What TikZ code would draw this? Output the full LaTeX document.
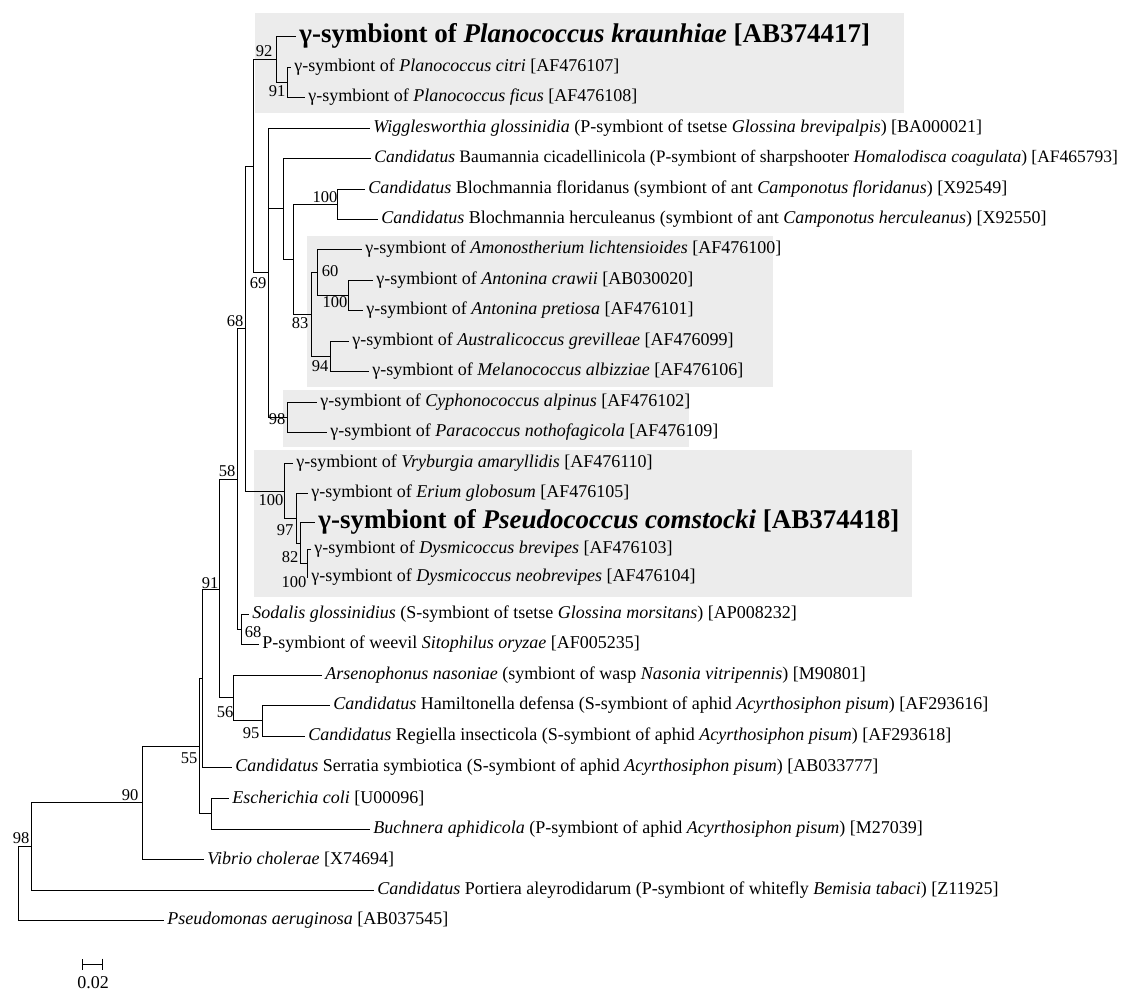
\documentclass[tikz,border=0pt]{standalone}
\usepackage{fontspec}
\setmainfont{Liberation Serif}
\usetikzlibrary{arrows.meta}
\definecolor{cladegray}{HTML}{ECECEC}

\begin{document}
\begin{tikzpicture}[x=1pt,y=-1pt,line width=0.8pt,
		leaf/.style={anchor=west,inner xsep=3pt,inner ysep=0pt,font=\fontsize{18}{20}\selectfont},
		bigleaf/.style={leaf,font=\fontsize{27}{30}\selectfont\bfseries},
		boot/.style={inner sep=0pt,font=\fontsize{16.5}{18}\selectfont}]
				\useasboundingbox (0,0) rectangle (1136,991);
				\fill[cladegray] (255,13) rectangle (904,113);
				\fill[cladegray] (307,236) rectangle (773,387);
				\fill[cladegray] (283,390) rectangle (689,447);
				\fill[cladegray] (254,450) rectangle (912,597);

				\coordinate (root) at (18,883);
				\coordinate (n98) at (31,846.5);
				\coordinate (n90) at (142,802.5);
				\coordinate (n55) at (199,746);
				\coordinate (nU) at (202,678.5);
				\coordinate (n91) at (219,589);
				\coordinate (n56) at (233,697);
				\coordinate (n95) at (262,720.5);
				\coordinate (nEc) at (211,813.5);
				\coordinate (n58) at (237,479);
				\coordinate (nSo) at (241,629);
				\coordinate (n68) at (245,328.5);
				\coordinate (nV) at (284,491);
				\coordinate (n97) at (296,518.5);
				\coordinate (n82) at (300,543.5);
				\coordinate (nD) at (307,563);
				\coordinate (nA) at (253,166);
				\coordinate (n92) at (276,59);
				\coordinate (nPc) at (287,82);
				\coordinate (n69) at (268,272.5);
				\coordinate (nCy) at (287,417);
				\coordinate (nB) at (283,208.5);
				\coordinate (nC) at (293,259);
				\coordinate (nBl) at (337,204);
				\coordinate (n83) at (311,314);
				\coordinate (n60) at (317,272);
				\coordinate (nAn) at (348,295);
				\coordinate (n94) at (330,356);

				\node[bigleaf] (kraun) at (296,36) {γ-symbiont of \textit{Planococcus kraunhiae} [AB374417]};
				\node[leaf] (citri) at (291,67) {γ-symbiont of \textit{Planococcus citri} [AF476107]};
				\node[leaf] (ficus) at (305,97) {γ-symbiont of \textit{Planococcus ficus} [AF476108]};
				\node[leaf] (wigg) at (370,128) {\textit{Wigglesworthia glossinidia} (P-symbiont of tsetse \textit{Glossina brevipalpis}) [BA000021]};
				\node[leaf,font=\fontsize{17.5}{20}\selectfont] (baum) at (371,158) {\textit{Candidatus} Baumannia cicadellinicola (P-symbiont of sharpshooter \textit{Homalodisca coagulata}) [AF465793]};
				\node[leaf] (blochf) at (365,189) {\textit{Candidatus} Blochmannia floridanus (symbiont of ant \textit{Camponotus floridanus}) [X92549]};
				\node[leaf] (blochh) at (378,219) {\textit{Candidatus} Blochmannia herculeanus (symbiont of ant \textit{Camponotus herculeanus}) [X92550]};
				\node[leaf] (amon) at (362,249) {γ-symbiont of \textit{Amonostherium lichtensioides} [AF476100]};
				\node[leaf] (crawii) at (373,280) {γ-symbiont of \textit{Antonina crawii} [AB030020]};
				\node[leaf] (pretiosa) at (363,310) {γ-symbiont of \textit{Antonina pretiosa} [AF476101]};
				\node[leaf] (austral) at (349,341) {γ-symbiont of \textit{Australicoccus grevilleae} [AF476099]};
				\node[leaf] (melano) at (369,371) {γ-symbiont of \textit{Melanococcus albizziae} [AF476106]};
				\node[leaf] (cypho) at (317,402) {γ-symbiont of \textit{Cyphonococcus alpinus} [AF476102]};
				\node[leaf] (paraco) at (327,432) {γ-symbiont of \textit{Paracoccus nothofagicola} [AF476109]};
				\node[leaf] (vryb) at (293,463) {γ-symbiont of \textit{Vryburgia amaryllidis} [AF476110]};
				\node[leaf] (erium) at (308,493) {γ-symbiont of \textit{Erium globosum} [AF476105]};
				\node[bigleaf] (comst) at (315,522) {γ-symbiont of \textit{Pseudococcus comstocki} [AB374418]};
				\node[leaf] (brevi) at (311,549) {γ-symbiont of \textit{Dysmicoccus brevipes} [AF476103]};
				\node[leaf] (neobrevi) at (308,577) {γ-symbiont of \textit{Dysmicoccus neobrevipes} [AF476104]};
				\node[leaf] (sodalis) at (249,614) {\textit{Sodalis glossinidius} (S-symbiont of tsetse \textit{Glossina morsitans}) [AP008232]};
				\node[leaf] (weevil) at (259,644) {P-symbiont of weevil \textit{Sitophilus oryzae} [AF005235]};
				\node[leaf] (arseno) at (322,675) {\textit{Arsenophonus nasoniae} (symbiont of wasp \textit{Nasonia vitripennis}) [M90801]};
				\node[leaf] (hamilt) at (330,705) {\textit{Candidatus} Hamiltonella defensa (S-symbiont of aphid \textit{Acyrthosiphon pisum}) [AF293616]};
				\node[leaf] (regiel) at (305,736) {\textit{Candidatus} Regiella insecticola (S-symbiont of aphid \textit{Acyrthosiphon pisum}) [AF293618]};
				\node[leaf] (serrat) at (232,767) {\textit{Candidatus} Serratia symbiotica (S-symbiont of aphid \textit{Acyrthosiphon pisum}) [AB033777]};
				\node[leaf] (ecoli) at (229,798) {\textit{Escherichia coli} [U00096]};
				\node[leaf] (buchn) at (370,829) {\textit{Buchnera aphidicola} (P-symbiont of aphid \textit{Acyrthosiphon pisum}) [M27039]};
				\node[leaf] (vibrio) at (204,859) {\textit{Vibrio cholerae} [X74694]};
				\node[leaf] (portiera) at (374,890) {\textit{Candidatus} Portiera aleyrodidarum (P-symbiont of whitefly \textit{Bemisia tabaci}) [Z11925]};
				\node[leaf] (pseudom) at (164,920) {\textit{Pseudomonas aeruginosa} [AB037545]};

				\foreach \p/\c in {root/n98, root/pseudom.west, n98/n90, n98/portiera.west, n90/n55, n90/vibrio.west,
						n55/nU, n55/nEc, nEc/ecoli.west, nEc/buchn.west, nU/n91, nU/serrat.west,
						n91/n58, n91/n56, n56/arseno.west, n56/n95, n95/hamilt.west, n95/regiel.west,
						n58/n68, n58/nSo, nSo/sodalis.west, nSo/weevil.west,
						n68/nA, n68/nV, nV/vryb.west, nV/n97, n97/erium.west, n97/n82, n82/comst.west, n82/nD,
						nD/brevi.west, nD/neobrevi.west,
						nA/n92, nA/n69, n92/kraun.west, n92/nPc, nPc/citri.west, nPc/ficus.west,
						n69/wigg.west, n69/nB, n69/nCy, nCy/cypho.west, nCy/paraco.west,
						nB/baum.west, nB/nC, nC/nBl, nC/n83, nBl/blochf.west, nBl/blochh.west,
						n83/n60, n83/n94, n60/amon.west, n60/nAn, nAn/crawii.west, nAn/pretiosa.west,
						n94/austral.west, n94/melano.west}
					\draw (\p) |- (\c);

				\node[boot] (b92) at (264,51) {92};
				\node[boot] (b91a) at (277,91) {91};
				\node[boot] (b69) at (258,283) {69};
				\node[boot] (b100a) at (325,197) {100};
				\node[boot] (b60) at (330,271) {60};
				\node[boot] (b100b) at (335,302) {100};
				\node[boot] (b83) at (300,323) {83};
				\node[boot] (b94) at (320,366) {94};
				\node[boot] (b98a) at (277,419) {98};
				\node[boot] (b68a) at (235,321) {68};
				\node[boot] (b58) at (227,471) {58};
				\node[boot] (b100c) at (271,500) {100};
				\node[boot] (b97) at (285,530) {97};
				\node[boot] (b82) at (290,557) {82};
				\node[boot] (b100d) at (294,582) {100};
				\node[boot] (b91b) at (210,583) {91};
				\node[boot] (b68b) at (253,632) {68};
				\node[boot] (b56) at (225,712) {56};
				\node[boot] (b95) at (251,733) {95};
				\node[boot] (b55) at (189,758) {55};
				\node[boot] (b90) at (130,795) {90};
				\node[boot] (b98b) at (21,838) {98};

				\coordinate (sbl) at (82,964);
				\coordinate (sbr) at (103,964);
				\draw[{Bar[width=11pt]}-{Bar[width=11pt]}] (sbl) -- (sbr);
				\node[leaf,anchor=center] (sblab) at (93,983) {0.02};
			\end{tikzpicture}
\end{document}
